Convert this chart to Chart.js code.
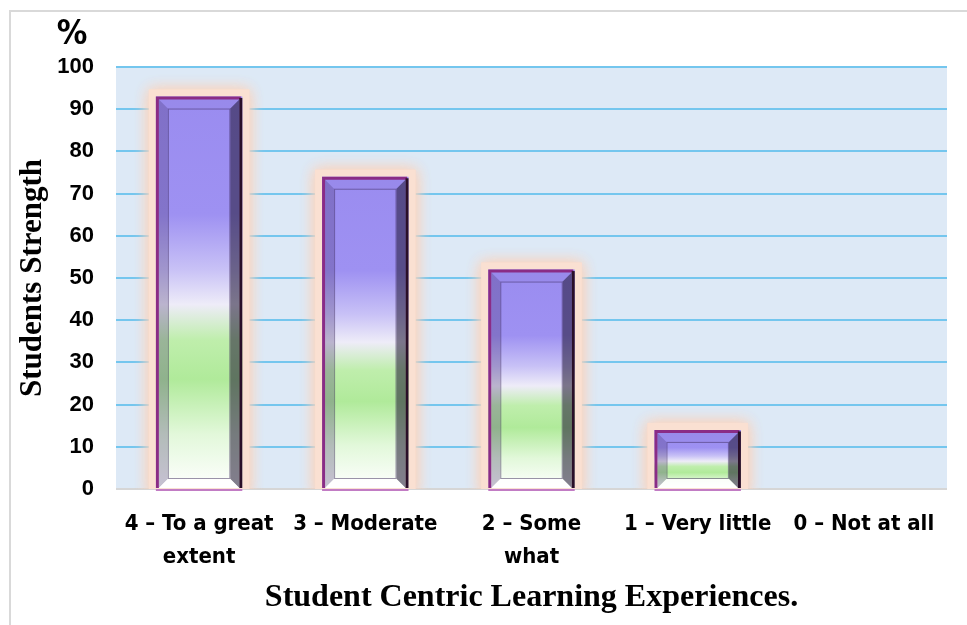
<!DOCTYPE html>
<html>
<head>
<meta charset="utf-8">
<script src="https://cdn.jsdelivr.net/npm/chart.js@4"></script>
<style>
  html, body { margin: 0; padding: 0; background: #ffffff; }
  #wrap { position: relative; width: 967px; height: 625px; }
  canvas { display: block; }
</style>
</head>
<body>
<div id="wrap"><canvas id="c" width="967" height="625"></canvas></div>
<script>
// ---- Data ----
const categories = [
  ["4 – To a great", "extent"],
  ["3 – Moderate"],
  ["2 – Some", "what"],
  ["1 – Very little"],
  ["0 – Not at all"]
];
const values = [93, 74, 52, 14, 0];
const yTicks = [0, 10, 20, 30, 40, 50, 60, 70, 80, 90, 100];
const yTitle = "Students Strength";
const xTitle = "Student Centric Learning Experiences.";
const unitLabel = "%";

// ---- Plugins ----
const pagePlugin = {
  id: 'page',
  beforeDraw(chart) {
    const ctx = chart.ctx;
    const a = chart.chartArea;
    ctx.save();
    ctx.fillStyle = '#d9d9d9';
    ctx.fillRect(9, 10, 958, 2);
    ctx.fillRect(9, 10, 2, 615);
    ctx.fillStyle = '#dde9f6';
    ctx.fillRect(a.left, a.top, a.right - a.left, a.bottom - a.top);
    ctx.restore();
  },
  afterDraw(chart) {
    const ctx = chart.ctx;
    ctx.save();
    ctx.fillStyle = '#000';
    ctx.font = 'bold 34px "DejaVu Sans Condensed", "DejaVu Sans", sans-serif';
    ctx.textAlign = 'center';
    ctx.textBaseline = 'middle';
    ctx.fillText(unitLabel, 72, 35);
    ctx.restore();
  }
};

const glowPlugin = {
  id: 'glow',
  beforeDatasetsDraw(chart) {
    const ctx = chart.ctx;
    const a = chart.chartArea;
    const meta = chart.getDatasetMeta(0);
    ctx.save();
    ctx.beginPath();
    ctx.rect(a.left, a.top - 20, a.right - a.left, a.bottom - a.top + 20);
    ctx.clip();
    meta.data.forEach((el) => {
      const w = el.width;
      const l = el.x - w / 2, t = el.y, bt = el.base;
      if (bt - t < 2) return;
      ctx.shadowColor = 'rgba(250, 212, 190, 1)';
      ctx.shadowBlur = 14;
      ctx.fillStyle = 'rgba(250, 224, 210, 1)';
      ctx.fillRect(l - 7, t - 7, w + 14, bt - t + 14);
      ctx.fillRect(l - 7, t - 7, w + 14, bt - t + 14);
    });
    ctx.restore();
  },
  afterDatasetsDraw(chart) {
    const ctx = chart.ctx;
    const meta = chart.getDatasetMeta(0);
    ctx.save();
    meta.data.forEach((el) => {
      const w = el.width;
      const l = el.x - w / 2, r = el.x + w / 2;
      const t = el.y, bt = el.base;
      if (bt - t < 2) return;
      const b = 9;
      const poly = (pts, fill) => {
        ctx.beginPath();
        ctx.moveTo(pts[0][0], pts[0][1]);
        for (let i = 1; i < pts.length; i++) ctx.lineTo(pts[i][0], pts[i][1]);
        ctx.closePath();
        ctx.fillStyle = fill;
        ctx.fill();
      };
      const il = l + 3, ir = r - 3, it = t + 3, ib = bt;
      poly([[il, it], [ir, it], [ir - b, it + b], [il + b, it + b]], 'rgba(150,135,225,0.35)');
      poly([[il, it], [il + b, it + b], [il + b, ib - b], [il, ib]], 'rgba(70,50,110,0.3)');
      poly([[ir, it], [ir - b, it + b], [ir - b, ib - b], [ir, ib]], 'rgba(30,20,50,0.55)');
      poly([[il, ib], [il + b, ib - b], [ir - b, ib - b], [ir, ib]], 'rgba(255,255,255,0.85)');
      ctx.strokeStyle = 'rgba(60,40,90,0.5)';
      ctx.lineWidth = 1;
      ctx.strokeRect(il + b + 0.5, it + b + 0.5, (ir - il) - 2 * b - 1, (ib - it) - 2 * b - 1);
      ctx.lineWidth = 3;
      ctx.strokeStyle = '#8a2c86';
      ctx.beginPath();
      ctx.moveTo(l + 1.5, bt);
      ctx.lineTo(l + 1.5, t + 1.5);
      ctx.lineTo(r - 1.5, t + 1.5);
      ctx.stroke();
      ctx.strokeStyle = '#2a0f28';
      ctx.beginPath();
      ctx.moveTo(r - 1.5, t + 1.5);
      ctx.lineTo(r - 1.5, bt);
      ctx.stroke();
      ctx.fillStyle = '#c27cc4';
      ctx.fillRect(l, bt + 1, w, 2);
    });
    ctx.restore();
  }
};

function barGradient(context) {
  const chart = context.chart;
  if (!chart.chartArea || context.type !== 'data') return '#9d90f2';
  const y = chart.scales.y;
  const top = y.getPixelForValue(context.raw);
  const bottom = y.getPixelForValue(0);
  if (!(bottom - top > 1)) return '#9d90f2';
  const g = chart.ctx.createLinearGradient(0, top, 0, bottom);
  g.addColorStop(0, '#9a8cf0');
  g.addColorStop(0.3, '#9e91f2');
  g.addColorStop(0.44, '#c8c1f6');
  g.addColorStop(0.53, '#eeecf8');
  g.addColorStop(0.62, '#bfeeac');
  g.addColorStop(0.72, '#b0ea9a');
  g.addColorStop(0.86, '#e2f8da');
  g.addColorStop(1, '#ffffff');
  return g;
}

new Chart(document.getElementById('c'), {
  type: 'bar',
  data: {
    labels: categories,
    datasets: [{
      data: values,
      backgroundColor: barGradient,
      borderWidth: 0,
      categoryPercentage: 1.0,
      barPercentage: 0.52
    }]
  },
  options: {
    responsive: false,
    animation: false,
    devicePixelRatio: 1,
    layout: { padding: { left: 14, right: 20, top: 67, bottom: 6 } },
    plugins: {
      legend: { display: false },
      tooltip: { enabled: false }
    },
    scales: {
      y: {
        min: 0, max: 100,
        afterBuildTicks(scale) { scale.ticks = yTicks.map(v => ({ value: v })); },
        afterFit(scale) { scale.width = 102; },
        border: { display: false },
        grid: {
          drawTicks: false,
          lineWidth: 2,
          color: (c) => c.tick && c.tick.value === 0 ? '#d6d6d6' : '#74c6ee'
        },
        ticks: {
          padding: 22,
          color: '#000',
          font: { family: '"Liberation Sans", Arial, sans-serif', size: 22, weight: 'bold' }
        },
        title: {
          display: true,
          text: yTitle,
          color: '#000',
          padding: { top: 0, bottom: 6 },
          font: { family: '"Liberation Serif", "Times New Roman", serif', size: 31, weight: 'bold' }
        }
      },
      x: {
        afterFit(scale) { scale.height = 625 - 489 - 6; },
        border: { display: false },
        grid: { display: false, drawTicks: false },
        ticks: {
          padding: 19,
          color: '#000',
          maxRotation: 0,
          autoSkip: false,
          font: { family: '"DejaVu Sans Condensed", "Liberation Sans Narrow", sans-serif', size: 22, weight: 'bold', lineHeight: 1.5 }
        },
        title: {
          display: true,
          text: xTitle,
          color: '#000',
          padding: { top: 0, bottom: 2 },
          font: { family: '"Liberation Serif", "Times New Roman", serif', size: 32, weight: 'bold' }
        }
      }
    }
  },
  plugins: [pagePlugin, glowPlugin]
});
</script>
</body>
</html>
